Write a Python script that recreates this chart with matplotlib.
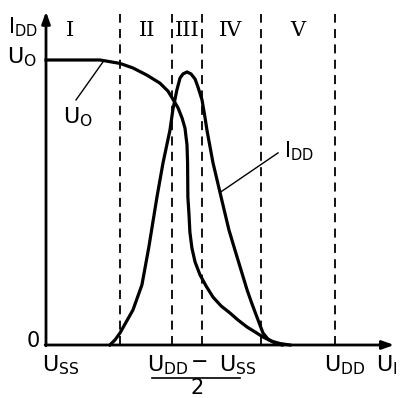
import matplotlib
matplotlib.use('Agg')
import matplotlib.pyplot as plt

# input voltage U_I scaled so that U_SS = 0 and U_DD = 10, output / current scaled to 1
uo_x = [0, 1.87, 2.56, 3.01, 3.49, 3.94, 4.22, 4.39, 4.57, 4.71, 4.81, 4.88, 4.90,
        4.91, 4.95, 4.98, 5.05, 5.16, 5.33, 5.54, 5.78, 6.06, 6.37, 6.64, 6.96,
        7.23, 7.51, 7.79, 8.10, 8.44]
uo_y = [1.0, 1.0, 0.988, 0.972, 0.947, 0.919, 0.891, 0.863, 0.832, 0.796, 0.761,
        0.702, 0.639, 0.519, 0.456, 0.396, 0.340, 0.291, 0.246, 0.207, 0.168,
        0.137, 0.112, 0.088, 0.063, 0.046, 0.028, 0.014, 0.005, 0.0]

idd_x = [2.21, 2.39, 2.56, 3.01, 3.32, 3.56, 3.84, 4.05, 4.29, 4.39, 4.53, 4.64,
         4.74, 4.88, 5.02, 5.16, 5.26, 5.40, 5.50, 5.57, 5.78, 6.06, 6.33, 6.54,
         6.75, 6.96, 7.13, 7.30, 7.51, 7.68, 7.92, 8.17]
idd_y = [0.0, 0.018, 0.042, 0.123, 0.211, 0.344, 0.519, 0.639, 0.754, 0.825, 0.895,
         0.937, 0.951, 0.958, 0.951, 0.933, 0.905, 0.860, 0.800, 0.754, 0.639,
         0.519, 0.404, 0.333, 0.263, 0.193, 0.144, 0.098, 0.042, 0.021, 0.007, 0.0]

region_bounds = [2.56, 4.36, 5.40, 7.45, 10.0]
region_labels = ['I', 'II', 'III', 'IV', 'V']
region_label_x = [0.83, 3.49, 4.88, 6.40, 8.72]

fig = plt.figure(figsize=(4.04, 3.98), dpi=100)
ax = fig.add_axes([0, 0, 1, 1])
ax.set_xlim(-1.592, 12.39)
ax.set_ylim(-0.186, 1.2105)
ax.axis('off')

# axes with arrows
arrow = dict(arrowstyle='-|>,head_length=0.7,head_width=0.25',
             lw=2, color='black', shrinkA=0, shrinkB=0)
ax.annotate('', xy=(0, 1.17), xytext=(0, -0.003), arrowprops=arrow)
ax.annotate('', xy=(12.05, 0), xytext=(-0.03, 0), arrowprops=arrow)

# region boundaries
for xb in region_bounds:
    ax.plot([xb, xb], [0, 1.16], color='black', lw=1.3, ls=(0, (5, 3.5)))
for lab, xl in zip(region_labels, region_label_x):
    ax.text(xl, 1.105, lab, ha='center', va='center', fontsize=15,
            family='DejaVu Serif')

# curves
ax.plot(uo_x, uo_y, color='black', lw=2.3, solid_joinstyle='round')
ax.plot(idd_x, idd_y, color='black', lw=2.3, solid_joinstyle='round')

# leader lines and curve labels
ax.plot([1.97, 1.04], [0.993, 0.860], color='black', lw=1)
ax.text(1.1, 0.80, r'$\mathregular{U_O}$', ha='center', va='center', fontsize=16)
ax.plot([6.02, 8.03], [0.535, 0.674], color='black', lw=1)
ax.text(8.75, 0.68, r'$\mathregular{I_{DD}}$', ha='center', va='center', fontsize=15)

# y axis labels
ax.text(-0.78, 1.115, r'$\mathregular{I_{DD}}$', ha='center', va='center', fontsize=15)
ax.text(-0.85, 1.01, r'$\mathregular{U_O}$', ha='center', va='center', fontsize=16)
ax.text(-0.45, 0.015, '0', ha='center', va='center', fontsize=15)

# x axis labels
ax.text(0.5, -0.07, r'$\mathregular{U_{SS}}$', ha='center', va='center', fontsize=16)
ax.text(4.22, -0.07, r'$\mathregular{U_{DD}}$', ha='center', va='center', fontsize=16)
ax.text(5.32, -0.06, '\u2212', ha='center', va='center', fontsize=15)
ax.text(6.62, -0.07, r'$\mathregular{U_{SS}}$', ha='center', va='center', fontsize=16)
ax.plot([3.67, 6.71], [-0.116, -0.116], color='black', lw=1.2)
ax.text(5.22, -0.152, '2', ha='center', va='center', fontsize=15)
ax.text(10.35, -0.07, r'$\mathregular{U_{DD}}$', ha='center', va='center', fontsize=16)
ax.text(11.8, -0.07, r'$\mathregular{U_I}$', ha='center', va='center', fontsize=16)

fig.savefig('out.png', dpi=100)
